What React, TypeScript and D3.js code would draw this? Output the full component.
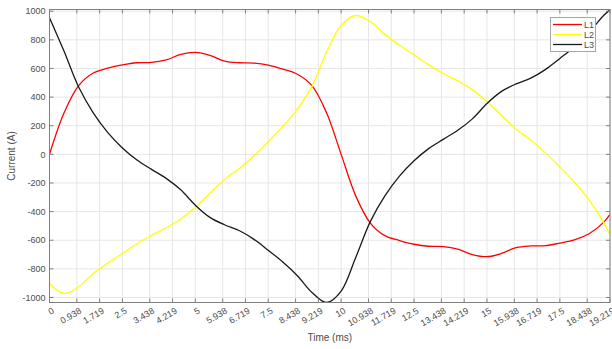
import React from "react";
import * as d3 from "d3";

const times = [0, 0.5, 1, 1.5, 2, 2.5, 3, 3.5, 4, 4.5, 5, 5.5, 6, 6.5, 7, 7.5, 8, 8.5, 9, 9.5, 10, 10.5, 11, 11.5, 12, 12.5, 13, 13.5, 14, 14.5, 15, 15.5, 16, 16.5, 17, 17.5, 18, 18.5, 19, 19.219];

const L1 = [0, 290, 480, 568, 602, 625, 640, 642, 660, 698, 712, 692, 652, 640, 638, 624, 596, 560, 480, 290, 0, -290, -480, -568, -602, -628, -642, -644, -662, -700, -715, -692, -652, -640, -638, -620, -598, -555, -475, -420];

const L2 = [-900, -972, -925, -832, -760, -693, -625, -565, -513, -452, -370, -272, -175, -100, -12, 88, 195, 318, 475, 715, 900, 970, 926, 840, 762, 695, 625, 565, 513, 452, 368, 272, 175, 100, 12, -88, -195, -318, -475, -565];

const L3 = [955, 720, 470, 290, 152, 45, -40, -105, -168, -248, -355, -440, -492, -532, -592, -670, -752, -848, -965, -1035, -955, -720, -470, -290, -152, -45, 40, 105, 168, 248, 355, 440, 492, 532, 592, 670, 752, 852, 970, 1010];

const seriesNames = ["L1", "L2", "L3"];
const seriesColors = ["#ff0000", "#ffff00", "#1a1a1a"];
const seriesData = [L1, L2, L3];

const xTicks = [0, 0.938, 1.719, 2.5, 3.438, 4.219, 5, 5.938, 6.719, 7.5, 8.438, 9.219, 10, 10.938, 11.719, 12.5, 13.438, 14.219, 15, 15.938, 16.719, 17.5, 18.438, 19.219];
const yTicks = [-1000, -800, -600, -400, -200, 0, 200, 400, 600, 800, 1000];

const W = 612;
const H = 349;
const left = 49.5;
const right = 610;
const top = 9.5;
const bottom = 302.5;

export default function App() {
  const x = d3.scaleLinear().domain([0, 19.219]).range([left, right]);
  const y = d3.scaleLinear().domain([-1035, 1012]).range([bottom, top]);
  const line = d3
    .line<number>()
    .x((_, i) => x(times[i]))
    .y((d) => y(d))
    .curve(d3.curveCatmullRom.alpha(0.5));

  const axisColor = "#808080";
  const textColor = "#4d4d4d";
  const font = "Liberation Sans, Arial, sans-serif";

  return (
    <svg
      width={W}
      height={H}
      style={{ position: "absolute", left: 0, top: 0, background: "#fff" }}
      fontFamily={font}
    >
      <defs>
        <clipPath id="plotclip">
          <rect x={left} y={top} width={right - left} height={bottom - top} />
        </clipPath>
      </defs>
      {xTicks.map((t) => (
        <line key={"gx" + t} x1={x(t)} x2={x(t)} y1={top} y2={bottom} stroke="#e6e6e6" strokeWidth={1} />
      ))}
      {yTicks.map((v) => (
        <line key={"gy" + v} x1={left} x2={right} y1={y(v)} y2={y(v)} stroke="#e6e6e6" strokeWidth={1} />
      ))}
      <g clipPath="url(#plotclip)">
        {seriesData.map((d, i) => (
          <path key={seriesNames[i]} d={line(d) || ""} fill="none" stroke={seriesColors[i]} strokeWidth={1.3} />
        ))}
      </g>
      <rect x={left} y={top} width={right - left} height={bottom - top} fill="none" stroke={axisColor} strokeWidth={1} />
      {xTicks.map((t) => (
        <g key={"tx" + t}>
          <line x1={x(t)} x2={x(t)} y1={bottom} y2={bottom - 4} stroke={axisColor} />
          <line x1={x(t)} x2={x(t)} y1={top} y2={top + 4} stroke={axisColor} />
          <text
            transform={`translate(${x(t) + 2},${bottom + 4.5}) rotate(-30)`}
            textAnchor="end"
            dy="0.72em"
            fontSize={9}
            fill={textColor}
          >
            {String(t)}
          </text>
        </g>
      ))}
      {yTicks.map((v) => (
        <g key={"ty" + v}>
          <line x1={left} x2={left + 4} y1={y(v)} y2={y(v)} stroke={axisColor} />
          <line x1={right} x2={right - 4} y1={y(v)} y2={y(v)} stroke={axisColor} />
          <text x={left - 4} y={y(v)} dy="0.35em" textAnchor="end" fontSize={9} fill={textColor}>
            {String(v)}
          </text>
        </g>
      ))}
      <text x={(left + right) / 2} y={341} textAnchor="middle" fontSize={10} fill={textColor}>
        Time (ms)
      </text>
      <text transform={`translate(15,156) rotate(-90)`} textAnchor="middle" fontSize={10} fill={textColor}>
        Current (A)
      </text>
      <g>
        <rect x={550.5} y={17.5} width={45} height={34} fill="#fff" stroke="#a6a6a6" strokeWidth={1} />
        {seriesNames.map((n, i) => (
          <g key={"lg" + n}>
            <line x1={553} x2={582} y1={24.5 + i * 10} y2={24.5 + i * 10} stroke={seriesColors[i]} strokeWidth={1.3} />
            <text x={584} y={24.5 + i * 10} dy="0.35em" fontSize={9} fill={textColor}>
              {n}
            </text>
          </g>
        ))}
      </g>
    </svg>
  );
}
